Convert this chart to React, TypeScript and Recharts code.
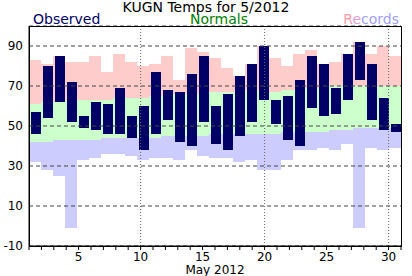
import { ComposedChart, Bar, XAxis, YAxis, CartesianGrid, ReferenceLine } from 'recharts';

const days = [1, 2, 3, 4, 5, 6, 7, 8, 9, 10, 11, 12, 13, 14, 15, 16, 17, 18, 19, 20, 21, 22, 23, 24, 25, 26, 27, 28, 29, 30, 31];
const obsHigh = [57, 80, 85, 72, 55, 62, 61, 69, 55, 60, 77, 68, 67, 76, 85, 60, 66, 75, 81, 90, 63, 65, 73, 85, 81, 69, 86, 92, 81, 64, 51];
const obsLow = [46, 54, 62, 52, 49, 48, 46, 46, 44, 38, 46, 53, 42, 40, 52, 41, 38, 45, 52, 63, 51, 43, 40, 59, 55, 56, 63, 73, 53, 48, 47];
const normHigh = [61, 62, 62, 63, 63, 63, 63, 64, 64, 64, 65, 65, 66, 66, 66, 67, 67, 67, 68, 68, 67, 68, 68, 69, 69, 70, 70, 70, 70, 70, 70];
const normLow = [42, 42, 43, 43, 43, 43, 44, 44, 44, 44, 44, 45, 45, 45, 45, 46, 46, 46, 46, 46, 46, 47, 47, 47, 47, 48, 48, 49, 49, 49, 49];
const recHigh = [83, 81, 85, 82, 82, 85, 77, 86, 82, 80, 81, 85, 73, 89, 87, 84, 79, 75, 81, 90, 84, 80, 86, 88, 81, 82, 86, 92, 86, 90, 85];
const recLow = [32, 28, 25, -1, 33, 34, 36, 36, 35, 33, 34, 34, 33, 38, 35, 34, 34, 32, 33, 28, 28, 33, 38, 38, 39, 38, 41, -1, 39, 38, 39];
const yTicks = [-10, 10, 30, 50, 70, 90];
const dayLines = [10, 20, 30];

const data = days.map((day, i) => ({
  day,
  base: recLow[i],
  lowBand: normLow[i] - recLow[i],
  normBand: normHigh[i] - normLow[i],
  highBand: recHigh[i] - normHigh[i],
  obs: [obsLow[i], obsHigh[i]],
}));

const W = 412;
const H = 276;
const FONT = 'DejaVu Sans, Verdana, sans-serif';
const layer = { position: 'absolute' as const, left: 0, top: 0 };
const headText = { position: 'absolute' as const, top: 14, fontSize: 14, lineHeight: '11px', whiteSpace: 'nowrap' as const };

export default function App() {
  return (
    <div style={{ position: 'absolute', left: 0, top: 0, width: W, height: H, background: '#fff', fontFamily: FONT }}>
      {/* bands: records and normals */}
      <div style={layer}>
        <ComposedChart width={W} height={H} data={data} barCategoryGap={0} margin={{ top: 26, right: 11, left: 29, bottom: 30 }}>
          <XAxis dataKey="day" hide />
          <YAxis domain={[-10, 100]} hide allowDataOverflow />
          <Bar dataKey="base" stackId="b" fill="none" isAnimationActive={false} />
          <Bar dataKey="lowBand" stackId="b" fill="#ccccff" isAnimationActive={false} />
          <Bar dataKey="normBand" stackId="b" fill="#ccffcc" isAnimationActive={false} />
          <Bar dataKey="highBand" stackId="b" fill="#ffcccc" isAnimationActive={false} />
        </ComposedChart>
      </div>
      {/* observed */}
      <div style={layer}>
        <ComposedChart width={W} height={H} data={data} margin={{ top: 26, right: 10, left: 30, bottom: 30 }}>
          <XAxis dataKey="day" hide />
          <YAxis domain={[-10, 100]} hide allowDataOverflow />
          <Bar dataKey="obs" barSize={10} fill="#000066" isAnimationActive={false} />
        </ComposedChart>
      </div>
      {/* grid and axes on top */}
      <div style={layer}>
        <ComposedChart width={W} height={H} data={data} margin={{ top: 26, right: 11, left: 0, bottom: 0 }}>
          <CartesianGrid vertical={false} stroke="#444" strokeDasharray="4 3" />
          <XAxis
            dataKey="day"
            interval={0}
            height={30}
            tickSize={4}
            tickLine={{ stroke: '#000' }}
            axisLine={{ stroke: '#000' }}
            tick={{ fill: '#000', fontSize: 12, fontFamily: FONT }}
            tickFormatter={(d: number) => (d % 5 === 0 ? String(d) : '')}
            label={{ value: 'May 2012', position: 'insideBottom', offset: 2, fill: '#000', fontSize: 12, fontFamily: FONT }}
          />
          <YAxis
            domain={[-10, 100]}
            ticks={yTicks}
            width={29}
            tickLine={false}
            tickSize={6}
            tickMargin={0}
            axisLine={{ stroke: '#000' }}
            tick={{ fill: '#000', fontSize: 12, fontFamily: FONT }}
            allowDataOverflow
          />
          {dayLines.map((d) => (
            <ReferenceLine key={d} x={d} stroke="#666" strokeDasharray="1 2" />
          ))}
        </ComposedChart>
      </div>
      <div style={{ position: 'absolute', left: 29, top: 26, width: 373, height: 221, border: '1px solid #000', boxSizing: 'border-box' }} />
      <div style={{ position: 'absolute', left: 0, top: 1, width: W, textAlign: 'center', fontSize: 14, lineHeight: '12px', whiteSpace: 'nowrap' }}>
        KUGN Temps for 5/2012
      </div>
      <div style={{ ...headText, left: 33, color: '#000066' }}>Observed</div>
      <div style={{ ...headText, left: 190, color: '#008000' }}>Normals</div>
      <div style={{ ...headText, right: 13 }}>
        <span style={{ color: '#ff99aa' }}>R</span>
        <span style={{ color: '#e0a0d8' }}>e</span>
        <span style={{ color: '#a0a0f8' }}>cords</span>
      </div>
    </div>
  );
}
